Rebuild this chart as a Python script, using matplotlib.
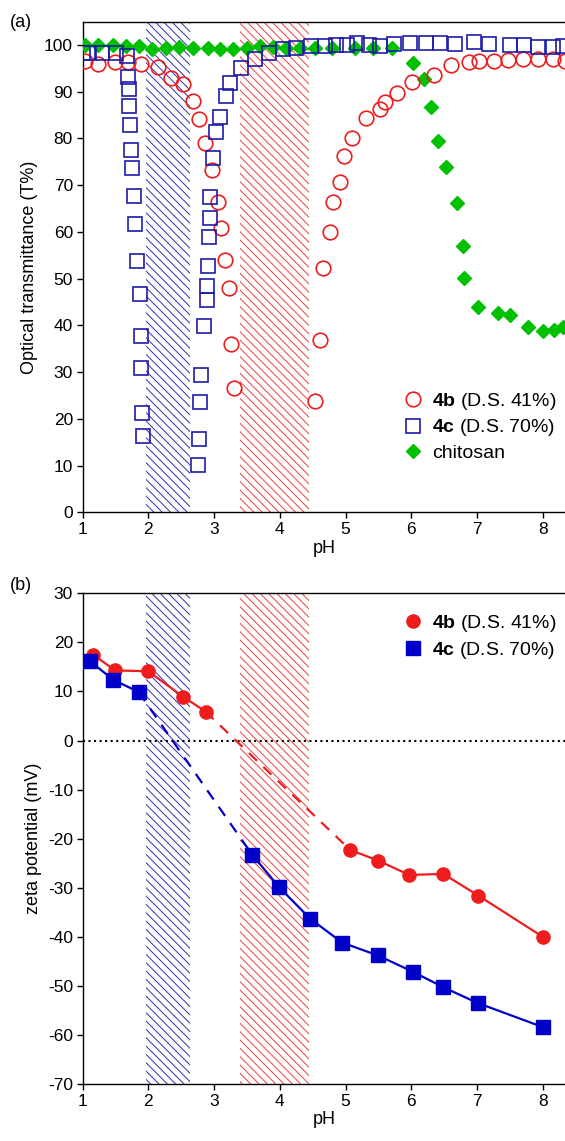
import matplotlib
matplotlib.use('Agg')
import matplotlib.pyplot as plt

plt.rcParams['font.family'] = ['Liberation Sans', 'DejaVu Sans']
plt.rcParams['mathtext.fontset'] = 'custom'
plt.rcParams['mathtext.bf'] = 'Liberation Sans:bold'
plt.rcParams['mathtext.rm'] = 'Liberation Sans'
plt.rcParams['hatch.linewidth'] = 0.7
plt.rcParams['axes.unicode_minus'] = False

# ---- panel (a): optical transmittance ----
ph_4b = [1.04, 1.24, 1.49, 1.69, 1.89, 2.14, 2.35, 2.52, 2.68, 2.77, 2.86, 2.96, 3.06, 3.11,
         3.16, 3.22, 3.26, 3.31,
         4.54, 4.61, 4.65, 4.76, 4.81, 4.92, 4.97, 5.10, 5.31, 5.53, 5.60, 5.79, 6.01, 6.34,
         6.61, 6.88, 7.03, 7.26, 7.48, 7.70, 7.93, 8.16, 8.34]
t_4b = [96.5, 96.0, 96.4, 96.4, 95.9, 95.3, 92.9, 91.6, 88.1, 84.2, 79.0, 73.3, 66.5, 60.8,
        54.0, 48.0, 36.0, 26.6,
        23.9, 36.9, 52.2, 60.0, 66.5, 70.6, 76.3, 80.1, 84.4, 86.4, 87.9, 89.7, 92.1, 93.6,
        95.8, 96.3, 96.6, 96.5, 96.9, 97.0, 97.0, 97.1, 96.5]

ph_4c = [1.0, 1.10, 1.30, 1.51, 1.67, 1.69, 1.70, 1.71, 1.72, 1.74, 1.75, 1.78, 1.80, 1.83,
         1.87, 1.88, 1.89, 1.90, 1.91,
         2.76, 2.77, 2.79, 2.80, 2.84, 2.89, 2.89, 2.90, 2.92, 2.93, 2.94, 2.99, 3.03, 3.09,
         3.18, 3.24, 3.41, 3.62, 3.84, 4.05, 4.25, 4.47, 4.69, 4.86, 5.02, 5.18, 5.36, 5.52,
         5.73, 5.98, 6.23, 6.43, 6.67, 6.95, 7.18, 7.50, 7.72, 7.93, 8.15, 8.31]
t_4c = [98.2, 98.2, 98.2, 98.2, 97.7, 93.2, 90.5, 86.9, 82.9, 77.5, 73.6, 67.7, 61.7, 53.8,
        46.8, 37.8, 30.9, 21.3, 16.3,
        10.1, 15.6, 23.6, 29.3, 39.8, 45.5, 48.4, 52.7, 59.0, 63.0, 67.5, 75.9, 81.3, 84.5,
        89.1, 91.8, 95.0, 97.0, 98.4, 99.1, 99.4, 99.8, 99.9, 100.1, 100.1, 100.4, 100.1, 99.8,
        100.3, 100.4, 100.4, 100.4, 100.3, 100.6, 100.2, 100.1, 100.1, 99.6, 99.6, 99.8]

ph_chi = [1.04, 1.24, 1.46, 1.66, 1.85, 2.06, 2.26, 2.46, 2.68, 2.90, 3.09, 3.29, 3.50, 3.70,
          3.90, 4.10, 4.30, 4.54, 4.79, 5.14, 5.42, 5.70, 6.03, 6.19, 6.30, 6.40, 6.53, 6.69,
          6.79, 6.80, 7.01, 7.32, 7.50, 7.77, 8.01, 8.18, 8.31]
t_chi = [100.1, 100.1, 100.1, 99.8, 99.7, 99.2, 99.4, 99.6, 99.4, 99.4, 99.2, 99.2, 99.4, 99.7,
         99.5, 99.4, 99.4, 99.3, 99.3, 99.3, 99.3, 99.3, 96.2, 92.8, 86.8, 79.5, 73.8, 66.3,
         56.9, 50.2, 43.9, 42.7, 42.2, 39.6, 38.8, 39.0, 39.7]

# ---- panel (b): zeta potential ----
ph_z4b = [1.16, 1.49, 2.00, 2.53, 2.87, 5.07, 5.50, 5.97, 6.49, 7.02, 8.00]
z_4b = [17.5, 14.3, 14.1, 8.9, 5.9, -22.3, -24.5, -27.4, -27.2, -31.6, -40.0]
ph_z4c = [1.11, 1.46, 1.85, 3.58, 3.99, 4.46, 4.95, 5.49, 6.02, 6.49, 7.01, 8.00]
z_4c = [16.2, 12.4, 9.9, -23.3, -29.9, -36.3, -41.2, -43.8, -47.1, -50.3, -53.5, -58.4]
gap_4b = 4   # last point before the dashed part
gap_4c = 2

band_4c = (1.97, 2.63)
band_4b = (3.40, 4.44)

red = '#ee1c1c'
blue = '#1c1ca8'
green = '#00c000'
zblue = '#0000c8'
hatch_blue = '#3030b0'
hatch_red = '#ea4040'

fig = plt.figure(figsize=(5.65, 11.41), dpi=100)
ax1 = fig.add_axes([0.1464, 0.551, 0.8536, 0.430])
ax2 = fig.add_axes([0.1464, 0.050, 0.8536, 0.430])

for ax in (ax1, ax2):
    ax.axvspan(*band_4c, facecolor='none', edgecolor=hatch_blue, hatch='\\\\\\\\', linewidth=0, zorder=1)
    ax.axvspan(*band_4b, facecolor='none', edgecolor=hatch_red, hatch='\\\\\\\\', linewidth=0, zorder=1)

ax1.plot(ph_chi, t_chi, 'D', color=green, ms=7, mec=green, label='chitosan', zorder=3)
ax1.plot(ph_4b, t_4b, 'o', mfc='none', mec=red, mew=1.2, ms=10.5, label=r'$\bf{4b}$ (D.S. 41%)', zorder=4)
ax1.plot(ph_4c, t_4c, 's', mfc='none', mec=blue, mew=1.2, ms=9.5, label=r'$\bf{4c}$ (D.S. 70%)', zorder=5)

h, l = ax1.get_legend_handles_labels()
ax1.legend([h[1], h[2], h[0]], [l[1], l[2], l[0]], loc='lower right', bbox_to_anchor=(1.01, 0.075),
           frameon=False, fontsize=14, handlelength=1.0, handletextpad=0.45, labelspacing=0.3,
           borderaxespad=0.3)

ax1.set_xlim(1, 8.34)
ax1.set_ylim(0, 105)
ax1.set_yticks(range(0, 101, 10))
ax1.set_ylabel('Optical transmittance (T%)', fontsize=13)
ax1.set_xlabel('pH', fontsize=13, labelpad=2)

ax2.axhline(0, color='black', ls=':', lw=1.5, zorder=2)
ax2.plot(ph_z4b[:gap_4b + 1], z_4b[:gap_4b + 1], '-o', color=red, lw=1.6, ms=9.5, zorder=4,
         label=r'$\bf{4b}$ (D.S. 41%)')
ax2.plot(ph_z4b[gap_4b:gap_4b + 2], z_4b[gap_4b:gap_4b + 2], '--', color=red, lw=1.6,
         dashes=(5, 4), zorder=3)
ax2.plot(ph_z4b[gap_4b + 1:], z_4b[gap_4b + 1:], '-o', color=red, lw=1.6, ms=9.5, zorder=4)
ax2.plot(ph_z4c[:gap_4c + 1], z_4c[:gap_4c + 1], '-s', color=zblue, lw=1.6, ms=9.5, zorder=5,
         label=r'$\bf{4c}$ (D.S. 70%)')
ax2.plot(ph_z4c[gap_4c:gap_4c + 2], z_4c[gap_4c:gap_4c + 2], '--', color=zblue, lw=1.6,
         dashes=(5, 4), zorder=3)
ax2.plot(ph_z4c[gap_4c + 1:], z_4c[gap_4c + 1:], '-s', color=zblue, lw=1.6, ms=9.5, zorder=5)

leg2 = ax2.legend(loc='upper right', bbox_to_anchor=(1.01, 0.988), frameon=False, fontsize=14,
                  handlelength=1.0, handletextpad=0.45, labelspacing=0.3, borderaxespad=0.3)
for hnd in leg2.legend_handles:
    hnd.set_linestyle('none')

ax2.set_xlim(1, 8.34)
ax2.set_ylim(-70, 30)
ax2.set_yticks(range(-70, 31, 10))
ax2.set_ylabel('zeta potential (mV)', fontsize=13)
ax2.set_xlabel('pH', fontsize=13, labelpad=2)

for ax in (ax1, ax2):
    ax.set_xticks(range(1, 9))
    ax.spines['right'].set_visible(False)
    ax.tick_params(direction='out', length=4, width=1, labelsize=12.5, pad=3)
    for s in ('left', 'bottom', 'top'):
        ax.spines[s].set_linewidth(1.0)

fig.text(0.018, 0.976, '(a)', fontsize=13)
fig.text(0.018, 0.483, '(b)', fontsize=13)

fig.savefig('out.png', dpi=100)
